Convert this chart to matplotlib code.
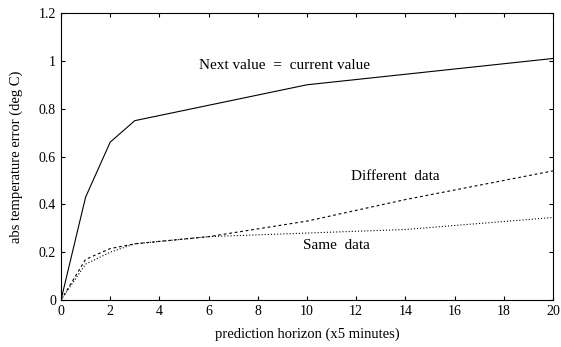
import matplotlib
matplotlib.use("Agg")
import matplotlib.pyplot as plt

plt.rcParams['font.family'] = ['Liberation Serif', 'DejaVu Serif']

horizon_next = [0, 1, 2, 3, 10, 20]
err_next = [0, 0.43, 0.66, 0.75, 0.90, 1.01]

horizon_diff = [0, 1, 2, 3, 6, 10, 14, 20]
err_diff = [0, 0.17, 0.215, 0.235, 0.265, 0.33, 0.42, 0.54]

horizon_same = [0, 1, 2, 3, 6, 10, 14, 20]
err_same = [0, 0.15, 0.20, 0.235, 0.265, 0.28, 0.295, 0.345]

x_ticks = [0, 2, 4, 6, 8, 10, 12, 14, 16, 18, 20]
y_ticks = [0, 0.2, 0.4, 0.6, 0.8, 1, 1.2]
y_tick_labels = ["0", "0.2", "0.4", "0.6", "0.8", "1", "1.2"]

fig = plt.figure(figsize=(5.61, 3.47), dpi=100)
ax = fig.add_axes([0.1087, 0.1354, 0.877, 0.827])

ax.plot(horizon_next, err_next, color="black", linewidth=0.8)
ax.plot(horizon_diff, err_diff, color="black", linewidth=0.8, linestyle=(0, (2.5, 2.5)))
ax.plot(horizon_same, err_same, color="black", linewidth=0.8, linestyle=(0, (1, 1.8)))

ax.text(9.1, 0.98, "Next value  =  current value", ha="center", va="center", fontsize=11)
ax.text(13.6, 0.515, "Different  data", ha="center", va="center", fontsize=11)
ax.text(11.2, 0.23, "Same  data", ha="center", va="center", fontsize=11)

ax.set_xlim(0, 20)
ax.set_ylim(0, 1.2)
ax.set_xticks(x_ticks)
ax.set_yticks(y_ticks)
ax.set_yticklabels(y_tick_labels)
ax.tick_params(direction="in", top=True, right=True, length=3, labelsize=10)
for s in ax.spines.values():
    s.set_linewidth(0.8)

ax.set_xlabel("prediction horizon (x5 minutes)", fontsize=10.5, labelpad=7)
ax.set_ylabel("abs temperature error (deg C)", fontsize=10.5)
ax.yaxis.set_label_coords(-0.078, 0.5)

fig.savefig("out.png", dpi=100)
